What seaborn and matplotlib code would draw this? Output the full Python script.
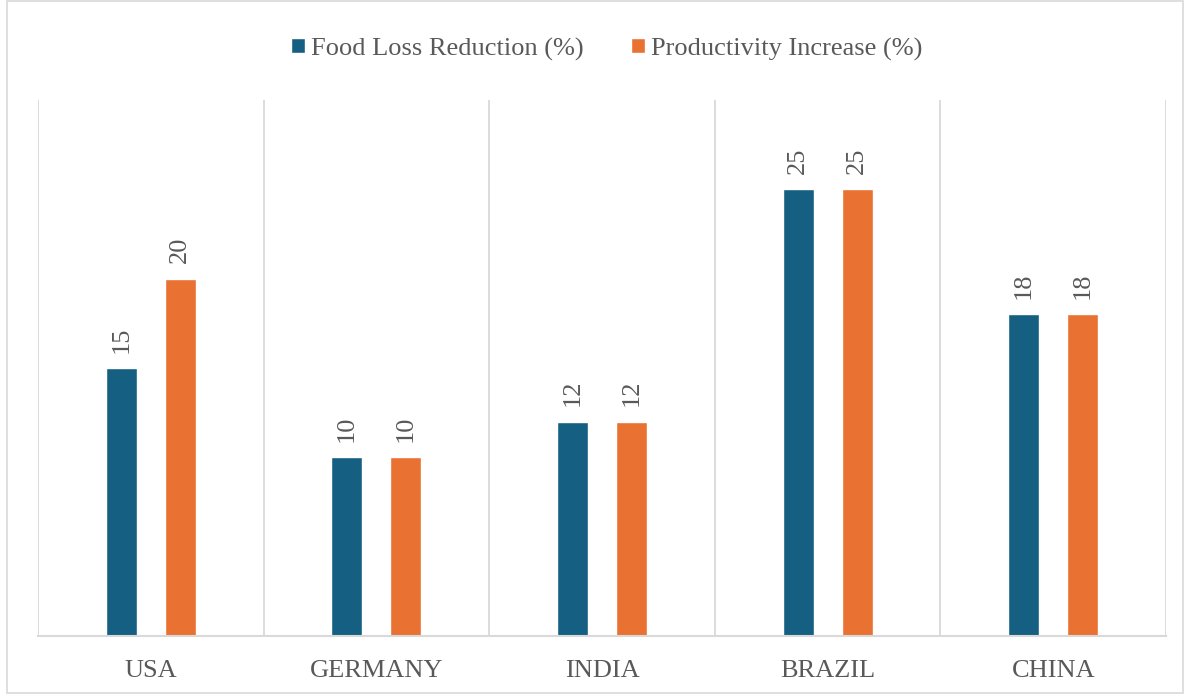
import matplotlib
matplotlib.use("Agg")
import matplotlib.pyplot as plt
from matplotlib.patches import Rectangle
import seaborn as sns
import pandas as pd

countries = ["USA", "GERMANY", "INDIA", "BRAZIL", "CHINA"]
food_loss = [15, 10, 12, 25, 18]
productivity = [20, 10, 12, 25, 18]
series_names = ["Food Loss Reduction (%)", "Productivity Increase (%)"]

df = pd.concat([
    pd.DataFrame({"country": countries, "value": food_loss, "series": series_names[0]}),
    pd.DataFrame({"country": countries, "value": productivity, "series": series_names[1]}),
])

sns.set_style("white")
plt.rcParams["font.family"] = ["Liberation Serif", "DejaVu Serif"]
text_color = "#595959"
grid_color = "#d9d9d9"

fig = plt.figure(figsize=(11.87, 6.94), dpi=100)
ax = fig.add_axes([38 / 1187, 1 - 636 / 694, (1166 - 38) / 1187, (636 - 100) / 694])

sns.barplot(data=df, x="country", y="value", hue="series", order=countries,
            hue_order=series_names, palette=["#156082", "#E97132"],
            width=0.524, gap=0.477, ax=ax, saturation=1, legend=True)

ax.set_ylim(0, 30)
ax.set_xlim(-0.5, len(countries) - 0.5)
ax.set_yticks([])
ax.set_xlabel("")
ax.set_ylabel("")
for i in range(len(countries) + 1):
    ax.axvline(i - 0.5, color=grid_color, lw=1.3, zorder=0)
for side in ["top", "right", "left"]:
    ax.spines[side].set_visible(False)
ax.spines["bottom"].set_color(grid_color)
ax.spines["bottom"].set_linewidth(1.5)
ax.tick_params(axis="x", length=0, pad=17, labelsize=19, labelcolor=text_color)

for cont in ax.containers:
    ax.bar_label(cont, rotation=90, padding=11, fontsize=19, color=text_color)

handles, labels = ax.get_legend_handles_labels()
leg = ax.legend(handles, labels, loc="center", bbox_to_anchor=(607 / 1187, 1 - 49 / 694),
                bbox_transform=fig.transFigure, ncol=2, frameon=False, fontsize=19,
                labelcolor=text_color, handlelength=0.5, handleheight=0.5,
                handletextpad=0.25, columnspacing=1.8, borderaxespad=0, borderpad=0)

fig.patches.append(Rectangle((7 / 1187, 1 / 694), 1176 / 1187, 692 / 694, transform=fig.transFigure,
                             fill=False, edgecolor=grid_color, lw=1.2))

fig.savefig("out.png", dpi=100)
